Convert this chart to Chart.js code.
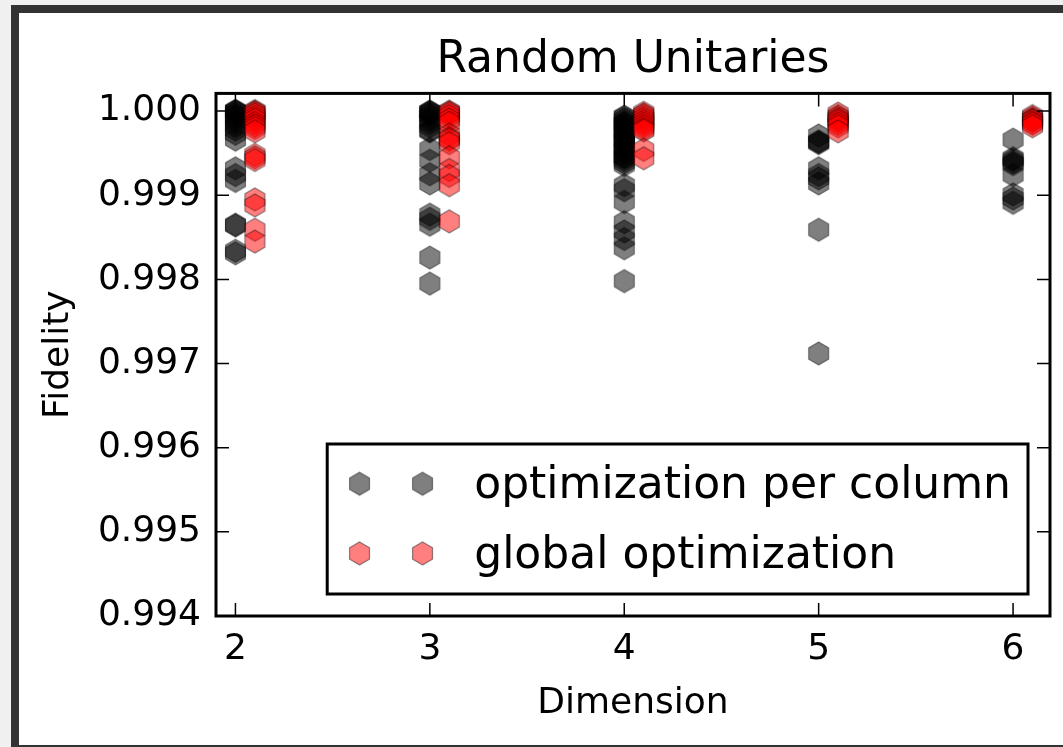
<!DOCTYPE html>
<html>
<head>
<meta charset="utf-8">
<title>Random Unitaries</title>
<script src="https://cdn.jsdelivr.net/npm/chart.js@4.4.1/dist/chart.umd.min.js"></script>
<style>
  html, body { margin: 0; padding: 0; overflow: hidden; background: #f0f0f0; }
  #frame { position: absolute; left: 11px; top: 5px; width: 1100px; height: 742px; background: #333; }
  #wrap { position: absolute; left: 8px; top: 8px; width: 1044px; height: 732px; background: #fff; }
</style>
</head>
<body>
<div id="frame"><div id="wrap"><canvas id="myChart" width="1044" height="732"></canvas></div></div>
<script>
// dimensions on the x axis, global optimization is drawn shifted right
const dims = [2, 3, 4, 5, 6];
const globalShift = 0.1;
const xTicks = [2, 3, 4, 5, 6];
const yTicks = [0.994, 0.995, 0.996, 0.997, 0.998, 0.999, 1.000];

// fidelity, optimization per column
const perColumn2 = [1.0000, 1.0000, 1.0000, 0.99998, 0.99995, 0.99992, 0.99989, 0.99985, 0.99982, 0.99978, 0.99973, 0.99966,
  0.99932, 0.99924, 0.99917, 0.99865, 0.99864, 0.99834, 0.99831];
const perColumn3 = [0.99999, 0.99999, 0.99999, 0.99997, 0.99994, 0.9999, 0.99986, 0.99982, 0.99977, 0.99976,
  0.99955, 0.99941, 0.99925, 0.99914, 0.99877, 0.99872, 0.99865, 0.99826, 0.99795];
const perColumn4 = [0.99993, 0.99993, 0.9999, 0.99987, 0.99984, 0.9998, 0.99977, 0.99973, 0.9997, 0.99966, 0.99962,
  0.99958, 0.99954, 0.9995, 0.99946, 0.99942, 0.99939, 0.99936, 0.99985, 0.99975, 0.99965, 0.99955, 0.99945,
  0.99912, 0.99906, 0.99892, 0.99868, 0.99857, 0.99848, 0.99837, 0.99798];
const perColumn5 = [0.99971, 0.99964, 0.99963, 0.99962, 0.99932, 0.99924, 0.9992, 0.99914, 0.99859, 0.99712];
const perColumn6 = [0.99966, 0.99944, 0.99942, 0.99939, 0.99937, 0.99924, 0.99901, 0.99896, 0.99891];

// fidelity, global optimization
const global2 = [1.0000, 0.99999, 0.99998, 0.99996, 0.99993, 0.9999, 0.99986, 0.99983, 0.9998, 0.99976,
  0.99948, 0.99945, 0.99942, 0.99895, 0.99888, 0.99859, 0.99845];
const global3 = [0.99999, 0.99999, 0.99997, 0.99994, 0.9999, 0.99986, 0.99972, 0.99968, 0.99966, 0.99962,
  0.99945, 0.9993, 0.99923, 0.99912, 0.99869];
const global4 = [0.99998, 0.99996, 0.99994, 0.99991, 0.99988, 0.99985, 0.99982, 0.99979, 0.99977, 0.99954, 0.99944];
const global5 = [0.99997, 0.99994, 0.99992, 0.9999, 0.99988, 0.99985, 0.99982, 0.99976];
const global6 = [0.99994, 0.99992, 0.9999, 0.99989, 0.99987, 0.99985, 0.99982];

const perColumnByDim = [perColumn2, perColumn3, perColumn4, perColumn5, perColumn6];
const globalByDim = [global2, global3, global4, global5, global6];

const labelFont = 'DejaVu Sans';
Chart.defaults.font.family = labelFont;
Chart.defaults.color = '#000';

// hexagon marker drawn once into a small canvas, used as pointStyle
function hexMarker(fill, r) {
  const c = document.createElement('canvas');
  const s = Math.ceil(2 * r + 4);
  c.width = s;
  c.height = s;
  const g = c.getContext('2d');
  g.beginPath();
  for (let k = 0; k < 6; k++) {
    const a = -Math.PI / 2 + k * Math.PI / 3;
    const px = s / 2 + r * Math.cos(a);
    const py = s / 2 + r * Math.sin(a);
    if (k === 0) g.moveTo(px, py); else g.lineTo(px, py);
  }
  g.closePath();
  g.fillStyle = fill;
  g.fill();
  g.lineWidth = 1.2;
  g.strokeStyle = 'rgba(0,0,0,0.45)';
  g.stroke();
  return c;
}

const hexBlack = hexMarker('rgba(0,0,0,0.5)', 11.5);
const hexRed = hexMarker('rgba(255,0,0,0.5)', 11.5);

function toPoints(byDim, shift) {
  let pts = [];
  for (let i = 0; i < dims.length; i++) {
    byDim[i].forEach(v => pts.push({x: dims[i] + shift, y: v}));
  }
  return pts;
}

// axes box with inward ticks on all four sides
const tickLen = 13;
const framePlugin = {
  id: 'frame',
  afterDraw(chart) {
    const {ctx, chartArea: a} = chart;
    const x = chart.scales.x, y = chart.scales.y;
    ctx.save();
    ctx.strokeStyle = '#000';
    ctx.lineWidth = 1.5;
    ctx.beginPath();
    xTicks.forEach(v => {
      const px = x.getPixelForValue(v);
      ctx.moveTo(px, a.bottom); ctx.lineTo(px, a.bottom - tickLen);
      ctx.moveTo(px, a.top); ctx.lineTo(px, a.top + tickLen);
    });
    yTicks.forEach(v => {
      const py = y.getPixelForValue(v);
      ctx.moveTo(a.left, py); ctx.lineTo(a.left + tickLen, py);
      ctx.moveTo(a.right, py); ctx.lineTo(a.right - tickLen, py);
    });
    ctx.stroke();
    ctx.lineWidth = 3;
    ctx.strokeRect(a.left, a.top, a.right - a.left, a.bottom - a.top);
    ctx.restore();
  }
};

// legend in the lower right corner of the axes
const legendPlugin = {
  id: 'boxLegend',
  afterDraw(chart) {
    const {ctx, chartArea: a} = chart;
    const sets = chart.data.datasets;
    ctx.save();
    ctx.font = '44px "' + labelFont + '"';
    let textW = 0;
    sets.forEach(ds => { textW = Math.max(textW, ctx.measureText(ds.label).width); });
    const right = a.right - 22, bottom = a.bottom - 22;
    const left = right - 17 - textW - 147, top = bottom - 150;
    ctx.fillStyle = '#fff';
    ctx.fillRect(left, top, right - left, bottom - top);
    ctx.lineWidth = 3;
    ctx.strokeStyle = '#000';
    ctx.strokeRect(left, top, right - left, bottom - top);
    const rows = [top + 39.7, top + 109.4];
    sets.forEach((ds, i) => {
      const img = ds.pointStyle;
      [32.3, 95.3].forEach(dx => {
        ctx.drawImage(img, left + dx - img.width / 2, rows[i] - img.height / 2);
      });
      ctx.fillStyle = '#000';
      ctx.textBaseline = 'alphabetic';
      ctx.textAlign = 'left';
      ctx.fillText(ds.label, left + 147, rows[i] + 14.5);
    });
    ctx.restore();
  }
};

const ctx = document.getElementById('myChart').getContext('2d');
const myChart = new Chart(ctx, {
  type: 'scatter',
  data: {
    datasets: [{
      label: 'optimization per column',
      data: toPoints(perColumnByDim, 0),
      pointStyle: hexBlack,
      pointRadius: 12,
      pointHoverRadius: 12,
      order: 1
    }, {
      label: 'global optimization',
      data: toPoints(globalByDim, globalShift),
      pointStyle: hexRed,
      pointRadius: 12,
      pointHoverRadius: 12,
      order: 0
    }]
  },
  options: {
    responsive: false,
    animation: false,
    devicePixelRatio: 1,
    events: [],
    layout: { padding: { left: 0, right: 11.3, top: 0, bottom: 0 } },
    plugins: {
      legend: { display: false },
      tooltip: { enabled: false },
      title: {
        display: true,
        text: 'Random Unitaries',
        fullSize: false,
        color: '#000',
        font: { size: 44, weight: 'normal' },
        padding: { top: 21, bottom: 6.6 }
      }
    },
    scales: {
      x: {
        type: 'linear',
        min: 1.9,
        max: 6.19,
        grid: { display: false, drawTicks: false },
        border: { display: false },
        afterBuildTicks: s => { s.ticks = xTicks.map(v => ({value: v})); },
        afterFit: s => { s.height = 129; },
        ticks: { color: '#000', font: { size: 36 }, padding: 11.8, maxRotation: 0, callback: v => String(v) },
        title: { display: true, text: 'Dimension', color: '#000', font: { size: 36 }, padding: { top: 0, bottom: 20.2 } }
      },
      y: {
        type: 'linear',
        min: 0.994,
        max: 1.00021,
        grid: { display: false, drawTicks: false },
        border: { display: false },
        afterBuildTicks: s => { s.ticks = yTicks.map(v => ({value: v})); },
        afterFit: s => { s.width = 197; },
        ticks: { color: '#000', font: { size: 36 }, padding: 15, callback: v => v.toFixed(3) },
        title: { display: true, text: 'Fidelity', color: '#000', font: { size: 36 }, padding: { top: 18.4, bottom: 0 } }
      }
    }
  },
  plugins: [framePlugin, legendPlugin]
});
</script>
</body>
</html>
